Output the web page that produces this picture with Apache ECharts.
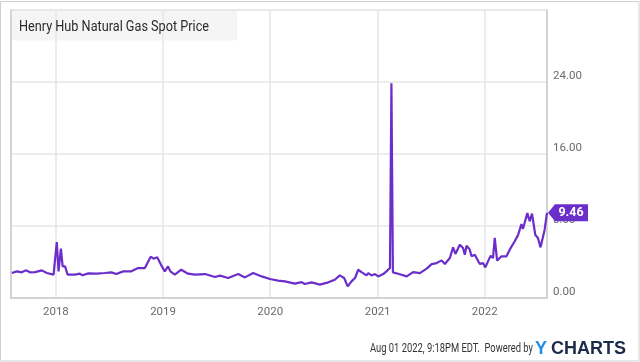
<!DOCTYPE html>
<html>
<head>
<meta charset="utf-8">
<script src="https://cdn.jsdelivr.net/npm/echarts/dist/echarts.min.js"></script>
<style>
html,body{margin:0;padding:0;background:#fff;}
#chart{width:640px;height:362px;}
</style>
</head>
<body>
<div id="chart"></div>
<script>
const titleText = 'Henry Hub Natural Gas Spot Price';
const footerText = 'Aug 01 2022, 9:18PM EDT.  Powered by';
const yTicks = [0, 8, 16, 24, 32];

const dates = [
'2017-08-04','2017-08-21','2017-09-07','2017-09-20','2017-10-05','2017-10-22','2017-11-14','2017-12-01','2017-12-24',
'2018-01-04','2018-01-10','2018-01-18','2018-01-24','2018-02-01','2018-02-10','2018-03-07','2018-03-24','2018-04-01',
'2018-04-22','2018-05-20','2018-06-17','2018-07-09','2018-07-26','2018-08-18','2018-09-15','2018-10-08','2018-10-31',
'2018-11-20','2018-11-30','2018-12-12','2018-12-26',
'2019-01-07','2019-01-18','2019-01-26','2019-02-10','2019-03-04','2019-03-27','2019-04-20','2019-05-24','2019-06-27',
'2019-07-14','2019-08-11','2019-09-14','2019-10-07','2019-11-04','2019-12-03','2019-12-31',
'2020-01-28','2020-02-20','2020-03-25','2020-04-17','2020-04-28','2020-05-21','2020-06-18','2020-07-17','2020-08-08',
'2020-08-25','2020-09-09','2020-09-21','2020-10-04','2020-10-16','2020-10-27','2020-11-07','2020-11-24','2020-11-30',
'2020-12-11','2020-12-23',
'2021-01-03','2021-01-20','2021-01-31','2021-02-12','2021-02-17','2021-02-22','2021-03-12','2021-04-10','2021-05-02',
'2021-05-25','2021-06-17','2021-07-04','2021-07-21','2021-08-07','2021-08-18','2021-09-04','2021-09-15','2021-09-23',
'2021-10-08','2021-10-19','2021-10-25','2021-10-31','2021-11-11','2021-11-17','2021-11-28','2021-12-15','2021-12-26',
'2022-01-03','2022-01-12','2022-01-21','2022-01-29','2022-02-04','2022-02-12','2022-02-27','2022-03-16','2022-03-27',
'2022-04-02','2022-04-13','2022-04-24','2022-04-30','2022-05-06','2022-05-11','2022-05-26','2022-06-03','2022-06-11',
'2022-06-22','2022-07-01','2022-07-10','2022-07-24','2022-08-01'
];
const prices = [
2.78,2.96,2.85,3.07,2.85,2.88,3.07,2.78,2.59,
6.22,2.96,5.48,3.51,3.51,2.59,2.59,2.70,2.52,
2.74,2.70,2.78,2.85,2.66,2.96,2.96,3.33,3.33,
4.59,4.37,4.52,3.63,
2.96,3.51,2.96,2.59,3.14,2.70,2.59,2.66,2.33,
2.48,2.22,2.66,2.29,2.77,2.40,2.11,
1.93,1.85,1.59,1.77,1.55,1.74,1.48,1.74,2.03,
2.51,2.22,1.29,1.85,2.22,3.14,2.88,2.51,2.77,
2.51,2.66,
2.40,2.66,2.96,3.33,23.86,2.85,2.70,2.40,2.88,
2.77,3.26,3.77,3.88,4.18,3.77,4.44,5.63,4.89,
5.92,5.55,4.81,5.81,5.37,4.63,4.81,3.77,3.88,
3.40,4.07,4.70,4.44,6.67,4.15,4.63,4.63,5.37,
5.26,6.30,6.96,6.85,8.22,7.66,9.44,8.52,9.37,
7.03,6.67,5.63,7.59,9.46
];

const purple = '#6b2ecb';
const baseFont = "Roboto, sans-serif";
const seriesData = dates.map((d, i) => [d, prices[i]]);
const lastIdx = dates.length - 1;

// condense text horizontally to mimic a condensed face
const mctx = document.createElement('canvas').getContext('2d');
function fitScale(text, font, target) {
  mctx.font = font;
  const w = mctx.measureText(text).width;
  return w > 0 ? target / w : 1;
}
const titleScale = fitScale(titleText, '15px Roboto', 190);
const footerScale = fitScale(footerText, '12px Roboto', 163);

const chart = echarts.init(document.getElementById('chart'), null, {renderer: 'canvas'});
chart.setOption({
  animation: false,
  grid: {left: 11, top: 10, width: 536, height: 288, show: true, borderColor: '#e4e4e4', borderWidth: 1},
  xAxis: {
    type: 'time',
    min: '2017-08-01',
    max: '2022-08-01',
    minInterval: 365 * 86400000,
    splitNumber: 5,
    axisLine: {show: true, lineStyle: {color: '#cccccc', width: 1.5}},
    axisTick: {show: false},
    axisLabel: {
      color: '#6a6a6a', fontSize: 11.5, fontFamily: baseFont, margin: 8,
      showMinLabel: false, showMaxLabel: false,
      formatter: v => String(new Date(v).getFullYear())
    },
    splitLine: {show: true, lineStyle: {color: '#e6e6e6', width: 1.5}}
  },
  yAxis: [{
    type: 'value',
    position: 'right',
    min: yTicks[0],
    max: yTicks[yTicks.length - 1],
    interval: 8,
    axisLine: {show: true, lineStyle: {color: '#cccccc', width: 1.5}},
    axisTick: {show: false},
    axisLabel: {
      color: '#6a6a6a', fontSize: 11.5, fontFamily: baseFont, margin: 6,
      verticalAlign: 'bottom', showMaxLabel: false,
      formatter: v => v.toFixed(2)
    },
    splitLine: {show: true, lineStyle: {color: '#e6e6e6', width: 1.5}}
  }, {
    type: 'value',
    position: 'left',
    min: yTicks[0],
    max: yTicks[yTicks.length - 1],
    interval: 8,
    axisLine: {show: true, lineStyle: {color: '#cccccc', width: 1.5}},
    axisTick: {show: false},
    axisLabel: {show: false},
    splitLine: {show: false}
  }],
  series: [{
    type: 'line',
    data: seriesData,
    showSymbol: false,
    symbol: 'none',
    lineStyle: {color: purple, width: 2.2},
    clip: false,
    markPoint: {
      symbol: 'path://M0,8.5 L7,0 L40,0 L40,17 L7,17 Z',
      symbolSize: [40, 17],
      symbolOffset: [21, 0],
      itemStyle: {color: purple},
      label: {
        show: true, position: 'inside', offset: [3, 0],
        color: '#fff', fontWeight: 'bold', fontSize: 12.5, fontFamily: baseFont,
        formatter: p => Number(p.value).toFixed(2)
      },
      data: [{coord: [dates[lastIdx], prices[lastIdx]], value: prices[lastIdx]}]
    }
  }],
  graphic: [
    {type: 'rect', silent: true, z: 100, shape: {x: 0.5, y: 1.5, width: 638.5, height: 359.5},
     style: {fill: 'none', stroke: '#cfcfcf', lineWidth: 1}},
    {type: 'rect', silent: true, z: 100, shape: {x: 11.5, y: 10.5, width: 225.5, height: 30},
     style: {fill: 'rgba(232,232,232,0.45)'}},
    {type: 'text', silent: true, z: 101, x: 19, y: 27, scaleX: titleScale,
     style: {text: titleText, fill: '#2b2b2b', fontSize: 15, fontFamily: baseFont, verticalAlign: 'middle'}},
    {type: 'text', silent: true, z: 101, x: 533, y: 349, scaleX: footerScale,
     style: {text: footerText, fill: '#333', fontSize: 12, fontFamily: baseFont, align: 'right', verticalAlign: 'middle'}},
    {type: 'text', silent: true, z: 101, x: 535, y: 349,
     style: {text: 'Y', fill: '#1e8ee6', fontSize: 18, fontWeight: 'bold', fontFamily: "'Liberation Sans', Arial, sans-serif", verticalAlign: 'middle'}},
    {type: 'text', silent: true, z: 101, x: 551, y: 349,
     style: {text: 'CHARTS', fill: '#1c2b4a', fontSize: 18, fontWeight: 'bold', fontFamily: "'Liberation Sans', Arial, sans-serif", verticalAlign: 'middle'}}
  ]
});
</script>
</body>
</html>
